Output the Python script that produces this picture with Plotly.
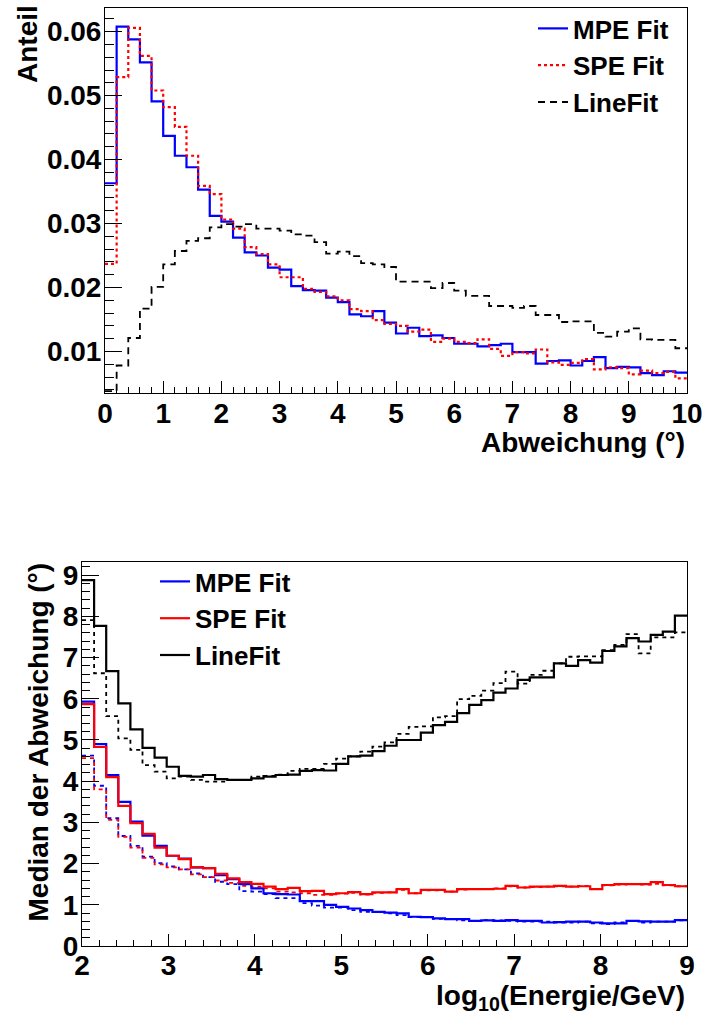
import numpy as np
import plotly.graph_objects as go

# ---------------- data: top panel (Abweichung, 50 bins 0..10) ----------------
dev_bins = np.linspace(0, 10, 51)
mpe_dev = [0.0363, 0.0608, 0.0588, 0.0552, 0.0491, 0.0437, 0.0406, 0.0388, 0.0353, 0.0312,
           0.0303, 0.0278, 0.0255, 0.0250, 0.0231, 0.0228, 0.0202, 0.0196, 0.0195, 0.0184,
           0.0177, 0.0158, 0.0155, 0.0163, 0.0145, 0.0128, 0.0137, 0.0124, 0.0125, 0.0121,
           0.0112, 0.0112, 0.0108, 0.0110, 0.0112, 0.0099, 0.0099, 0.0081, 0.0085, 0.0086,
           0.0078, 0.0085, 0.0091, 0.0074, 0.0076, 0.0075, 0.0066, 0.0063, 0.0069, 0.0067]
spe_dev = [0.0237, 0.0529, 0.0606, 0.0562, 0.0508, 0.0482, 0.0451, 0.0406, 0.0359, 0.0346,
           0.0306, 0.0292, 0.0263, 0.0252, 0.0236, 0.0216, 0.0216, 0.0198, 0.0193, 0.0186,
           0.0180, 0.0166, 0.0163, 0.0149, 0.0143, 0.0140, 0.0131, 0.0134, 0.0115, 0.0120,
           0.0115, 0.0113, 0.0119, 0.0104, 0.0093, 0.0099, 0.0097, 0.0103, 0.0083, 0.0079,
           0.0082, 0.0088, 0.0072, 0.0075, 0.0074, 0.0064, 0.0070, 0.0066, 0.0068, 0.0058]
line_dev = [0.0038, 0.0078, 0.0121, 0.0167, 0.0201, 0.0236, 0.0257, 0.0273, 0.0277, 0.0294,
            0.0299, 0.0295, 0.0299, 0.0292, 0.0292, 0.0289, 0.0283, 0.0281, 0.0271, 0.0253,
            0.0256, 0.0249, 0.0238, 0.0236, 0.0232, 0.0209, 0.0209, 0.0209, 0.0199, 0.0207,
            0.0195, 0.0187, 0.0187, 0.0171, 0.0171, 0.0168, 0.0171, 0.0157, 0.0157, 0.0146,
            0.0147, 0.0147, 0.0129, 0.0123, 0.0131, 0.0136, 0.0119, 0.0118, 0.0118, 0.0105]

# ---------------- data: bottom panel (log10 E, 50 bins 2..9) ----------------
e_bins = np.linspace(2, 9, 51)
mpe_med = [5.93, 4.90, 4.15, 3.50, 3.02, 2.68, 2.43, 2.19, 2.12, 1.91,
           1.89, 1.72, 1.62, 1.50, 1.40, 1.28, 1.26, 1.25, 1.09, 1.09,
           1.00, 0.95, 0.91, 0.87, 0.83, 0.81, 0.79, 0.71, 0.70, 0.67,
           0.65, 0.65, 0.61, 0.62, 0.61, 0.63, 0.61, 0.61, 0.57, 0.58,
           0.59, 0.59, 0.57, 0.55, 0.55, 0.61, 0.60, 0.59, 0.59, 0.63]
spe_med = [5.87, 4.83, 4.10, 3.40, 2.98, 2.72, 2.39, 2.19, 2.11, 1.91,
           1.89, 1.75, 1.64, 1.55, 1.51, 1.44, 1.38, 1.41, 1.33, 1.34,
           1.26, 1.28, 1.31, 1.26, 1.30, 1.30, 1.38, 1.28, 1.36, 1.36,
           1.32, 1.38, 1.38, 1.38, 1.39, 1.46, 1.42, 1.44, 1.44, 1.46,
           1.44, 1.45, 1.38, 1.48, 1.50, 1.50, 1.50, 1.55, 1.48, 1.45]
line_med = [8.88, 7.77, 6.67, 5.89, 5.26, 4.81, 4.57, 4.35, 4.13, 4.11,
            4.15, 4.05, 4.03, 4.03, 4.07, 4.11, 4.15, 4.16, 4.25, 4.27,
            4.26, 4.42, 4.60, 4.62, 4.73, 4.86, 5.00, 5.00, 5.18, 5.36,
            5.44, 5.65, 5.85, 5.97, 6.15, 6.25, 6.46, 6.52, 6.52, 6.86,
            6.80, 6.94, 6.88, 7.16, 7.27, 7.47, 7.39, 7.55, 7.63, 8.02]
mpe_med2 = [4.62, 3.89, 3.10, 2.67, 2.43, 2.17, 2.01, 1.93, 1.86, 1.76,
            1.67, 1.56, 1.50, 1.33, 1.32, 1.26, 1.16, 1.16, 1.04, 0.98,
            0.93, 0.93, 0.87, 0.83, 0.83, 0.79, 0.75, 0.70, 0.70, 0.66,
            0.66, 0.62, 0.61, 0.63, 0.62, 0.61, 0.59, 0.59, 0.59, 0.57,
            0.57, 0.59, 0.55, 0.53, 0.57, 0.61, 0.57, 0.59, 0.59, 0.62]
spe_med2 = [4.56, 3.80, 3.06, 2.65, 2.39, 2.14, 1.98, 1.91, 1.86, 1.74,
            1.67, 1.59, 1.53, 1.46, 1.44, 1.40, 1.32, 1.30, 1.28, 1.24,
            1.24, 1.27, 1.29, 1.25, 1.29, 1.30, 1.36, 1.28, 1.35, 1.35,
            1.32, 1.37, 1.38, 1.38, 1.40, 1.45, 1.42, 1.43, 1.44, 1.45,
            1.44, 1.46, 1.38, 1.47, 1.49, 1.50, 1.49, 1.51, 1.47, 1.45]
line_med2 = [7.91, 6.62, 5.58, 5.04, 4.76, 4.39, 4.23, 4.07, 4.11, 4.03,
             3.99, 3.99, 4.03, 4.03, 4.11, 4.13, 4.16, 4.25, 4.30, 4.30,
             4.42, 4.55, 4.60, 4.72, 4.84, 4.94, 5.15, 5.32, 5.33, 5.55,
             5.58, 5.99, 6.07, 6.20, 6.38, 6.66, 6.37, 6.58, 6.68, 6.86,
             7.02, 7.03, 7.03, 7.18, 7.31, 7.57, 7.10, 7.49, 7.49, 7.61]

names = ["MPE Fit", "SPE Fit", "LineFit"]
BLUE, RED, BLACK = "#0000ff", "#ff0000", "#000000"

W, H = 704, 1014
def px(x):
    return x / W
def py(y):
    return 1 - y / H

FONT = "Liberation Sans, Arial, Helvetica, sans-serif"

def step(v):
    return list(v) + [v[-1]]

fig = go.Figure()

# top panel
top_specs = [(mpe_dev, BLUE, "solid", 2.2, names[0]),
             (spe_dev, RED, "3px,3px", 2.2, names[1]),
             (line_dev, BLACK, "7px,5px", 1.8, names[2])]
for vals, col, dash, w, nm in top_specs:
    fig.add_trace(go.Scatter(x=dev_bins, y=step(vals), mode="lines", name=nm,
                             line=dict(color=col, width=w, dash=dash, shape="hv"),
                             xaxis="x", yaxis="y", legend="legend"))

# bottom panel (solid = legend entries, dashed = second variant)
bot_solid = [(mpe_med, BLUE, names[0]), (spe_med, RED, names[1]), (line_med, BLACK, names[2])]
bot_dash = [(mpe_med2, BLUE), (spe_med2, RED), (line_med2, BLACK)]
for vals, col in bot_dash:
    fig.add_trace(go.Scatter(x=e_bins, y=step(vals), mode="lines", showlegend=False,
                             line=dict(color=col, width=1.8, dash="4px,4px", shape="hv"),
                             xaxis="x2", yaxis="y2"))
for vals, col, nm in bot_solid:
    fig.add_trace(go.Scatter(x=e_bins, y=step(vals), mode="lines", name=nm,
                             line=dict(color=col, width=2.2, shape="hv"),
                             xaxis="x2", yaxis="y2", legend="legend2"))

tickfont = dict(family=FONT, size=28, color="black", weight="bold")
common = dict(showline=True, linecolor="black", linewidth=1, mirror=True,
              ticks="inside", tickcolor="black", tickwidth=1, showgrid=False,
              zeroline=False, tickfont=tickfont, automargin=False)

fig.update_layout(
    width=W, height=H, margin=dict(l=0, r=0, t=0, b=0, autoexpand=False),
    paper_bgcolor="white", plot_bgcolor="white",
    xaxis=dict(domain=[px(105), px(687)], anchor="y", range=[0, 10],
               tick0=0, dtick=1, ticklen=12, ticklabelstandoff=-5,
               minor=dict(ticks="inside", dtick=0.2, ticklen=6, tickcolor="black"),
               **common),
    yaxis=dict(domain=[py(393), py(8)], anchor="x", range=[0.0035, 0.0637],
               tick0=0, dtick=0.01, tickformat=".2f", ticklen=17, ticklabelstandoff=-3,
               minor=dict(ticks="inside", dtick=0.002, ticklen=9, tickcolor="black"),
               **common),
    xaxis2=dict(domain=[px(82), px(687)], anchor="y2", range=[2, 9],
                tick0=0, dtick=1, ticklen=12, ticklabelstandoff=-6,
                minor=dict(ticks="inside", dtick=0.2, ticklen=6, tickcolor="black"),
                **common),
    yaxis2=dict(domain=[py(946), py(562)], anchor="x2", range=[0, 9.32],
                tick0=0, dtick=1, ticklen=17, ticklabelstandoff=-3,
                minor=dict(ticks="inside", dtick=0.2, ticklen=8, tickcolor="black"),
                **common),
    legend=dict(x=px(533), y=py(5), xanchor="left", yanchor="top",
                bgcolor="rgba(0,0,0,0)", itemwidth=30, tracegroupgap=0,
                font=dict(family=FONT, size=26, color="black", weight="bold")),
    legend2=dict(x=px(155), y=py(558), xanchor="left", yanchor="top",
                 bgcolor="rgba(0,0,0,0)", itemwidth=30, tracegroupgap=0,
                 font=dict(family=FONT, size=26, color="black", weight="bold")),
)

tfont = dict(family=FONT, size=28, color="black", weight="bold")
fig.add_annotation(text="Anteil", xref="paper", yref="paper", x=px(27), y=py(3),
                   xanchor="center", yanchor="top", textangle=-90, showarrow=False, font=tfont)
fig.add_annotation(text="Abweichung (°)", xref="paper", yref="paper", x=px(687), y=py(442),
                   xanchor="right", yanchor="middle", showarrow=False, font=tfont)
fig.add_annotation(text="Median der Abweichung (°)", xref="paper", yref="paper", x=px(38), y=py(561),
                   xanchor="center", yanchor="top", textangle=-90, showarrow=False, font=tfont)
fig.add_annotation(text="log<sub>10</sub>(Energie/GeV)", xref="paper", yref="paper", x=px(687), y=py(997),
                   xanchor="right", yanchor="middle", showarrow=False, font=tfont)

fig.write_html("out.html")
